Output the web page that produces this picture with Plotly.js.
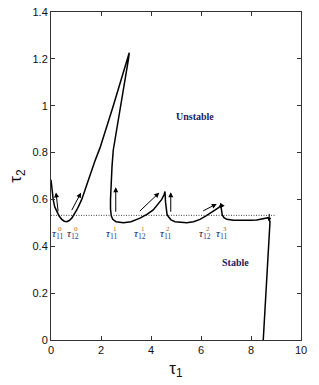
<!DOCTYPE html>
<html><head><meta charset="utf-8">
<script src="https://cdn.plot.ly/plotly-3.0.1.min.js"></script>
<style>html,body{margin:0;padding:0;background:#fff}#c{width:319px;height:385px}</style>
</head><body><div id="c"></div>
<script>
// Stability boundary curve (tau1, tau2)
const curveX = [0, 0.04, 0.09, 0.15, 0.23, 0.33, 0.43, 0.53, 0.63, 0.73, 0.83, 0.93, 1.03, 1.13, 1.23, 1.36, 1.49, 1.62, 1.75, 1.84, 1.96, 2.48, 2.8, 3.05, 3.13,
                3.1, 2.79, 2.6, 2.49, 2.44, 2.4, 2.38, 2.38, 2.41, 2.47, 2.6, 2.9, 3.2, 3.56, 3.85, 4.09, 4.3, 4.43, 4.52, 4.56,
                4.58, 4.6, 4.64, 4.69, 4.8, 4.96, 5.2, 5.43, 5.7, 5.96, 6.2, 6.36, 6.5, 6.63, 6.72, 6.79,
                6.82, 6.85, 6.92, 7.03, 7.3, 7.56, 8.0, 8.23, 8.5, 8.69, 8.76, 8.49];
const curveY = [0.684, 0.64, 0.598, 0.568, 0.548, 0.528, 0.515, 0.507, 0.505, 0.51, 0.52, 0.535, 0.555, 0.577, 0.6, 0.64, 0.684, 0.725, 0.762, 0.787, 0.82, 0.996, 1.11, 1.2, 1.226,
                1.2, 1.0, 0.89, 0.81, 0.74, 0.67, 0.6, 0.56, 0.53, 0.515, 0.505, 0.5, 0.505, 0.52, 0.537, 0.555, 0.58, 0.6, 0.62, 0.634,
                0.59, 0.555, 0.537, 0.527, 0.513, 0.505, 0.501, 0.5, 0.505, 0.515, 0.53, 0.541, 0.55, 0.558, 0.566, 0.577,
                0.555, 0.534, 0.522, 0.515, 0.511, 0.51, 0.511, 0.512, 0.516, 0.522, 0.505, 0];
// Critical level
const levelX = [0, 9.0];
const levelY = [0.532, 0.532];
// Arrows: start -> end
const arrowFromX = [0.29, 0.8, 2.59, 3.49, 4.79, 6.03, 6.89];
const arrowFromY = [0.543, 0.548, 0.541, 0.544, 0.541, 0.548, 0.562];
const arrowToX = [0.2, 1.2, 2.59, 4.33, 4.79, 6.63, 6.76];
const arrowToY = [0.63, 0.629, 0.652, 0.629, 0.631, 0.581, 0.586];
// Crossing labels
const labelX = [0.24, 0.89, 2.43, 3.56, 4.56, 6.16, 6.83];
const labelSub = ["11", "12", "11", "12", "11", "12", "11"];
const labelSup = ["0", "0", "1", "1", "2", "2", "3"];
const labelY = 0.452;
const regionText = ["Unstable", "Stable"];
const regionX = [5.76, 7.36];
const regionY = [0.953, 0.33];

const serif = "Liberation Serif, Times New Roman, serif";
const ann = [];
for (let i = 0; i < arrowFromX.length; i++) {
  ann.push({x: arrowToX[i], y: arrowToY[i], ax: arrowFromX[i], ay: arrowFromY[i],
    xref: 'x', yref: 'y', axref: 'x', ayref: 'y', showarrow: true, text: '',
    arrowhead: 2, arrowsize: 1, arrowwidth: 1, arrowcolor: '#000', standoff: 0, startstandoff: 0});
}
for (let i = 0; i < labelX.length; i++) {
  ann.push({x: labelX[i], y: labelY, xref: 'x', yref: 'y', showarrow: false,
    text: '<i>τ</i><sub><span style="color:#1f3f9f">' + labelSub[i] + '</span></sub>',
    font: {family: serif, size: 11, color: '#1a1a4a'}, xanchor: 'center', yanchor: 'middle'});
  ann.push({x: labelX[i], y: labelY, xref: 'x', yref: 'y', showarrow: false,
    text: labelSup[i], xshift: 3, yshift: 5,
    font: {family: serif, size: 7, color: '#c06a10'}, xanchor: 'center', yanchor: 'middle'});
}
for (let i = 0; i < regionText.length; i++) {
  ann.push({x: regionX[i], y: regionY[i], xref: 'x', yref: 'y', showarrow: false,
    text: '<b>' + regionText[i] + '</b>', font: {family: serif, size: 10, color: '#1b1b5e'}});
}
ann.push({x: 8.73, y: 0.505, ax: 8.73, ay: 0.545, xref: 'x', yref: 'y', axref: 'x', ayref: 'y',
  showarrow: true, text: '', arrowhead: 2, arrowsize: 0.8, arrowwidth: 1, arrowcolor: '#000'});

const traces = [
  {x: levelX, y: levelY, mode: 'lines', line: {color: '#444', width: 1, dash: '1px,1.5px'}, hoverinfo: 'skip'},
  {x: curveX, y: curveY, mode: 'lines', line: {color: '#000', width: 1.5}, hoverinfo: 'skip'}
];

const axisCommon = {showgrid: false, zeroline: false, showline: true, mirror: 'ticks',
  linecolor: '#333', linewidth: 1, ticks: 'inside', ticklen: 4, tickcolor: '#333',
  tickfont: {family: 'Liberation Sans, Arial, sans-serif', size: 11, color: '#111'}};

const layout = {
  width: 319, height: 385, showlegend: false,
  margin: {l: 51, r: 18, t: 12, b: 45},
  paper_bgcolor: '#fff', plot_bgcolor: '#fff',
  xaxis: Object.assign({}, axisCommon, {range: [0, 10], dtick: 2, tick0: 0,
    title: {text: 'τ<sub>1</sub>', font: {family: 'Liberation Sans, Arial, sans-serif', size: 17, color: '#111'}, standoff: 6}}),
  yaxis: Object.assign({}, axisCommon, {range: [0, 1.4], dtick: 0.2, tick0: 0,
    title: {text: 'τ<sub>2</sub>', font: {family: 'Liberation Sans, Arial, sans-serif', size: 17, color: '#111'}, standoff: 6}}),
  annotations: ann
};
Plotly.newPlot('c', traces, layout, {staticPlot: true, displayModeBar: false});
</script></body></html>
